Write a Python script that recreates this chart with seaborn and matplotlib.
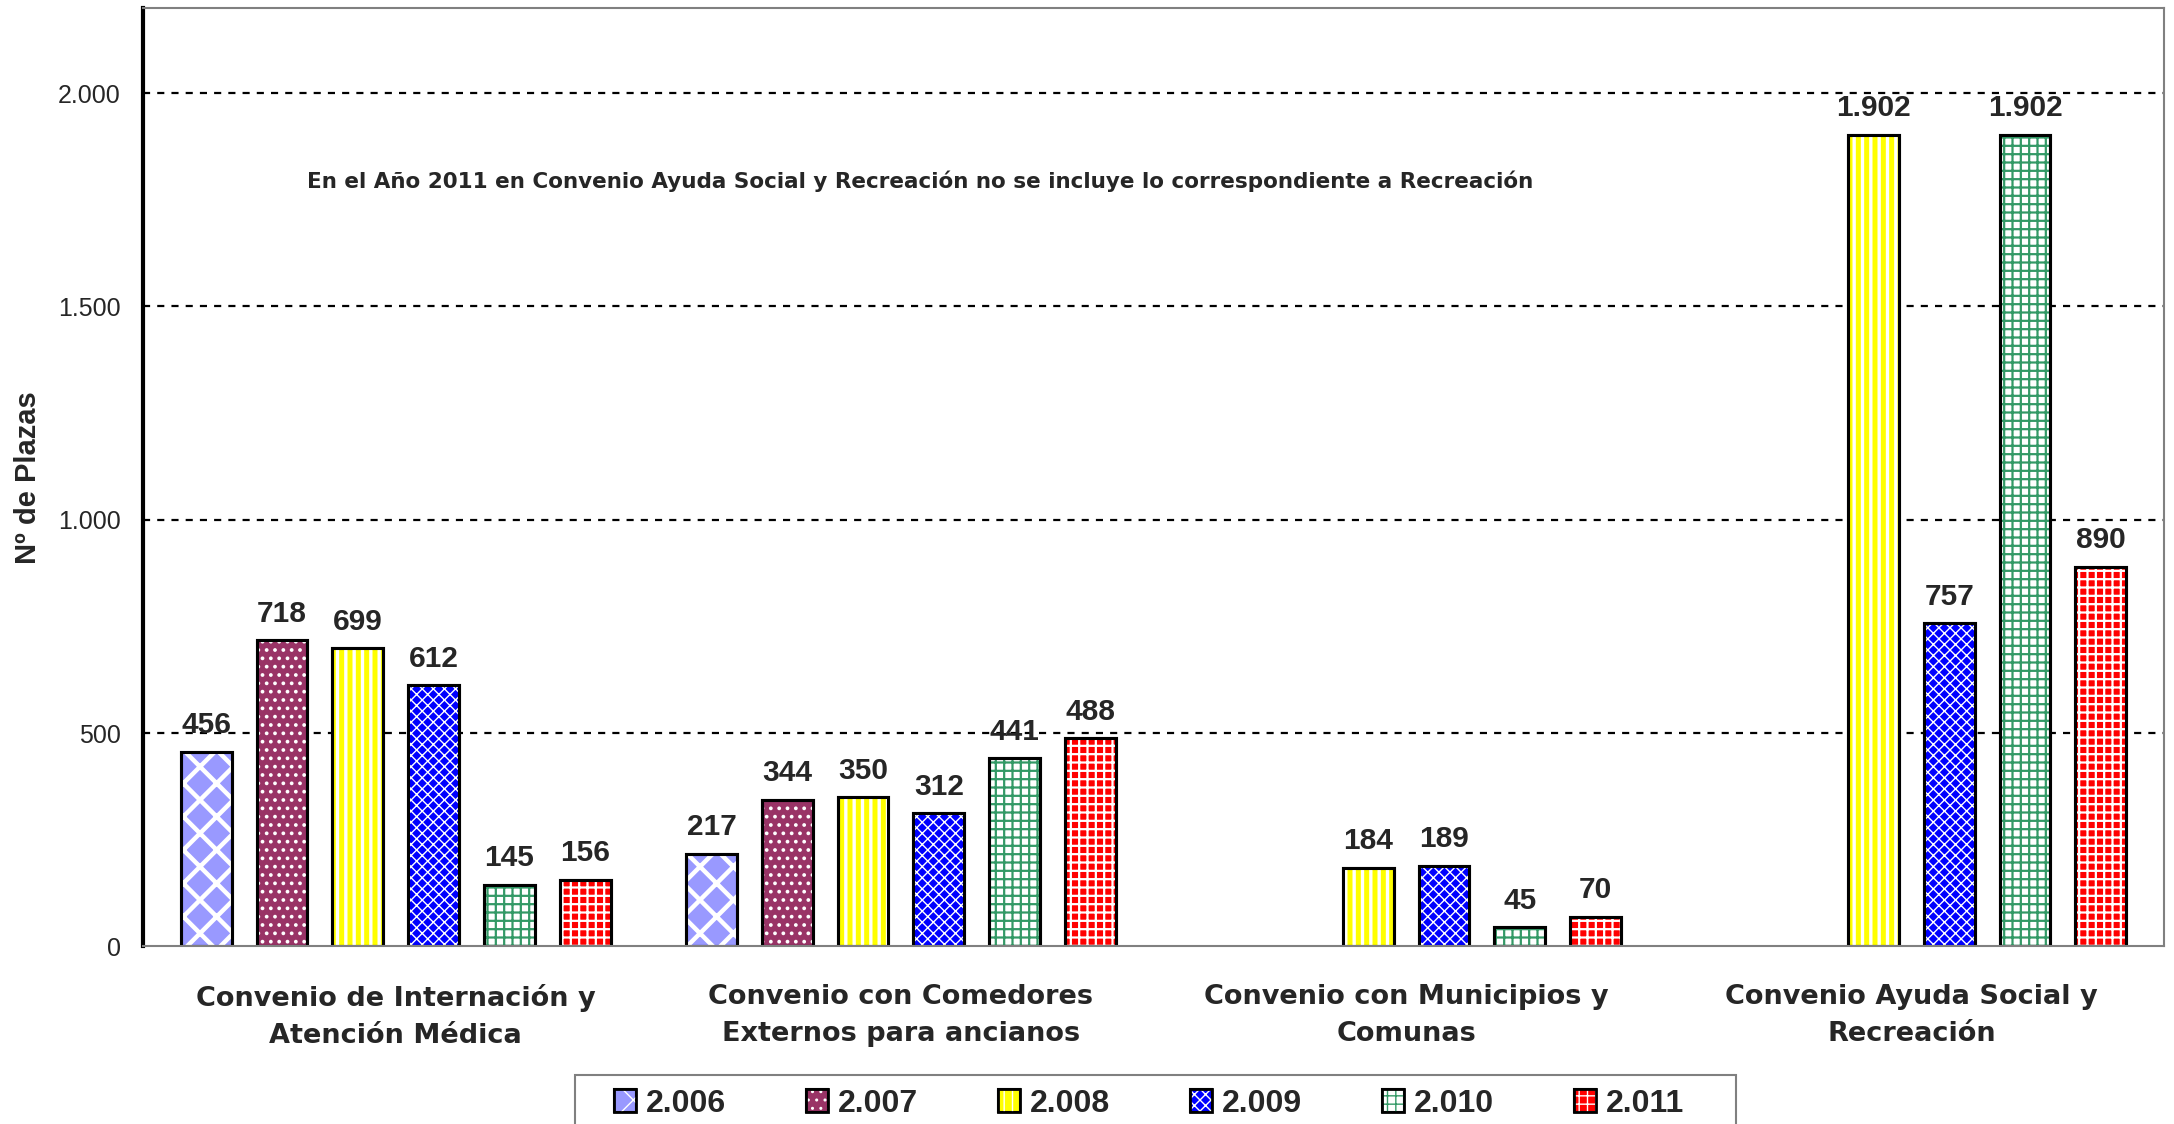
import numpy as np
import pandas as pd
import matplotlib
matplotlib.use("Agg")
import matplotlib.pyplot as plt
from matplotlib.patches import Patch, Rectangle
from matplotlib.ticker import FuncFormatter
import seaborn as sns

# data
categorias = ["Convenio de Internación y\nAtención Médica",
              "Convenio con Comedores\nExternos para ancianos",
              "Convenio con Municipios y\nComunas",
              "Convenio Ayuda Social y\nRecreación"]
anios = ["2.006", "2.007", "2.008", "2.009", "2.010", "2.011"]
v2006 = [456, 217, np.nan, np.nan]
v2007 = [718, 344, np.nan, np.nan]
v2008 = [699, 350, 184, 1902]
v2009 = [612, 312, 189, 757]
v2010 = [145, 441, 45, 1902]
v2011 = [156, 488, 70, 890]
nota = "En el Año 2011 en Convenio Ayuda Social y Recreación no se incluye lo correspondiente a Recreación"

# (face, hatch, hatch colour, hatch width) per year
estilos = [("#9999FF", "x", "white", 3.2),
           ("#993366", "..", "white", 1.5),
           ("#FFFF00", "||", "white", 2.4),
           ("#0000FF", "xxx", "white", 1.0),
           ("white", "++", "#339966", 1.6),
           ("#FF0000", "++", "white", 1.6)]

rows = []
for anio, vals in zip(anios, [v2006, v2007, v2008, v2009, v2010, v2011]):
  for cat, v in zip(categorias, vals):
    rows.append({"convenio": cat, "anio": anio, "plazas": v})
df = pd.DataFrame(rows).dropna()

sns.set_style("white")
plt.rcParams['font.family'] = ['Liberation Sans', 'DejaVu Sans']
ancho = ['DejaVu Sans']

def miles(v, pos=None):
  return f"{v:,.0f}".replace(",", ".")

def set_hatch(p, lw):
  if hasattr(p, "set_hatch_linewidth"):
    p.set_hatch_linewidth(lw)

fig = plt.figure(figsize=(21.74, 11.24), dpi=100)
ax = fig.add_axes([0.0658, 0.158, 0.9296, 0.835])

sns.barplot(data=df, x="convenio", y="plazas", hue="anio", order=categorias,
            hue_order=anios, palette=[e[0] for e in estilos], saturation=1,
            width=0.9, gap=0.33, errorbar=None, edgecolor="black",
            linewidth=2.2, legend=False, ax=ax, zorder=2)

# hatch overlays on each bar
for cont, (fc, h, hc, hlw) in zip(ax.containers, estilos):
  for p in cont.patches:
    over = Rectangle(p.get_xy(), p.get_width(), p.get_height(), fill=False,
                     hatch=h, edgecolor=hc, linewidth=0, zorder=2.1)
    set_hatch(over, hlw)
    ax.add_patch(over)
    ax.add_patch(Rectangle(p.get_xy(), p.get_width(), p.get_height(), fill=False,
                           edgecolor="black", linewidth=2.2, zorder=2.2))
  ax.bar_label(cont, fmt=miles, padding=9, fontsize=21.5, fontweight="bold")

ax.set_xlim(-0.5, 3.5)
ax.set_ylim(0, 2200)
ax.set_yticks([0, 500, 1000, 1500, 2000])
ax.yaxis.set_major_formatter(FuncFormatter(miles))
for yv in [500, 1000, 1500, 2000]:
  ax.axhline(yv, color="black", lw=1.6, ls=(0, (3.2, 3.2)), zorder=1)

ax.set_xlabel("")
ax.set_ylabel("Nº de Plazas", fontsize=21, fontweight="bold")
ax.yaxis.set_label_coords(-0.05, 0.5)
ax.tick_params(axis="y", labelsize=18, length=0, pad=16)
ax.tick_params(axis="x", length=0, pad=27)
for t in ax.get_xticklabels():
  t.set_fontweight("bold")
  t.set_fontsize(19.5)
  t.set_family(ancho)
  t.set_linespacing(1.55)

ax.spines["left"].set_color("black")
ax.spines["left"].set_linewidth(3)
for s in ["top", "right", "bottom"]:
  ax.spines[s].set_color("#808080")
  ax.spines[s].set_linewidth(1.5)

ax.text(0.081, 0.815, nota, transform=ax.transAxes, fontsize=15.5,
        fontweight="bold", family=ancho, va="center", ha="left")

handles = []
for fc, h, hc, hlw in estilos:
  hp = Patch(fill=False, hatch=h, edgecolor=hc, linewidth=0)
  set_hatch(hp, hlw)
  handles.append((Patch(facecolor=fc, edgecolor="black", linewidth=1.5), hp,
                  Patch(fill=False, edgecolor="black", linewidth=2)))
leg = fig.legend(handles, anios, loc="center", bbox_to_anchor=(0.5285, 0.018),
                 ncol=6, frameon=False, prop={"size": 23, "weight": "bold"},
                 handlelength=0.7, handleheight=0.7, handletextpad=0.3,
                 columnspacing=2.5, borderpad=0.55)
# legend box: wider than the entries and running off the bottom edge
fig.patches.append(Rectangle((0.2645, -0.01), 0.534, 0.0537, transform=fig.transFigure,
                             fill=False, edgecolor="#808080", linewidth=1.5))

fig.savefig("out.png", dpi=100)
